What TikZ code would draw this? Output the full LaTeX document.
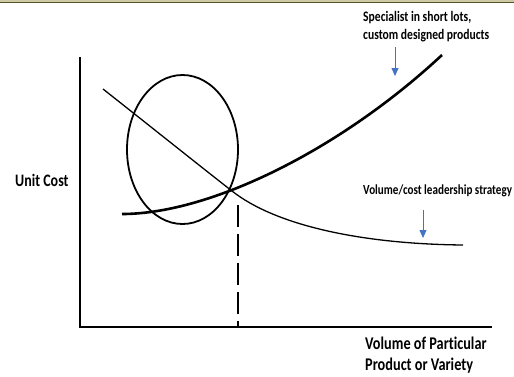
\documentclass[tikz,border=0pt]{standalone}
\usepackage{fontspec}
\usepackage{graphicx}
\setmainfont{Carlito}[Ligatures=NoCommon]
\usetikzlibrary{arrows.meta,shapes.geometric}
\definecolor{arrowblue}{HTML}{4472C4}
\definecolor{bandfill}{HTML}{CFC9A4}
\definecolor{bandline}{HTML}{57532F}
% tall, narrow bold lettering
\newcommand{\tallbf}[2]{\scalebox{1}[1.25]{\bfseries\fontsize{#1}{#1}\selectfont #2}}
\tikzset{
  axisline/.style={line width=2pt},
  costcurve/.style={line width=1.3pt},
  nichecurve/.style={line width=2.6pt},
  markring/.style={line width=1.8pt},
  dropline/.style={line width=1.8pt, dash pattern=on 22pt off 7pt},
  pointer/.style={arrowblue, line width=0.8pt, -{Triangle[length=8pt,width=7pt]}},
  lbl/.style={inner sep=0pt, anchor=base west}
}
\begin{document}
\begin{tikzpicture}[x=1pt,y=-1pt]
  \useasboundingbox[fill=white] (0,0) rectangle (514,376);
  % header band
  \fill[bandfill] (0,0) rectangle (514,2.2);
  \draw[bandline, line width=1pt] (0,2.5) -- (514,2.5);

  % axes
  \coordinate (origin) at (80,327);
  \coordinate (ytop) at (80,57);
  \coordinate (xend) at (492,327);
  \draw[axisline] (ytop) -- (origin) -- (xend);

  % highlighted region
  \node[draw, markring, ellipse, minimum width=111pt, minimum height=149pt, inner sep=0pt] (ring) at (182.5,149.5) {};

  % volume/cost curve
  \coordinate (vstart) at (103,89);
  \coordinate (cross) at (232,191);
  \coordinate (vend) at (463,245);
  \draw[costcurve] (vstart) .. controls (160,134) and (205,170) .. (cross)
                   .. controls (275,225) and (360,244) .. (vend);

  % specialist curve
  \coordinate (sstart) at (122,214);
  \coordinate (send) at (442,55);
  \draw[nichecurve] (sstart) .. controls (210,214) and (340,150) .. (send);

  % drop line to the volume axis
  \coordinate (droptop) at (238,205);
  \coordinate (dropbot) at (238,327);
  \draw[dropline] (droptop) -- (dropbot);

  % labels
  \node[lbl] (ylab) at (15,186) {\tallbf{14}{Unit Cost}};
  \node[lbl] (xlab1) at (365,349) {\tallbf{14.3}{Volume of Particular}};
  \node[lbl] (xlab2) at (365,370) {\tallbf{14.3}{Product or Variety}};
  \node[lbl] (slab1) at (363,21.7) {\tallbf{11.6}{Specialist in short lots,}};
  \node[lbl] (slab2) at (363,39.3) {\tallbf{11.6}{custom designed products}};
  \node[lbl] (vlab) at (363,194) {\tallbf{11.1}{Volume/cost leadership strategy}};

  % pointers
  \coordinate (p1a) at (395,47);
  \coordinate (p1b) at (395,76);
  \coordinate (p2a) at (423,210);
  \coordinate (p2b) at (423,238);
  \draw[pointer] (p1a) -- (p1b);
  \draw[pointer] (p2a) -- (p2b);
\end{tikzpicture}
\end{document}
